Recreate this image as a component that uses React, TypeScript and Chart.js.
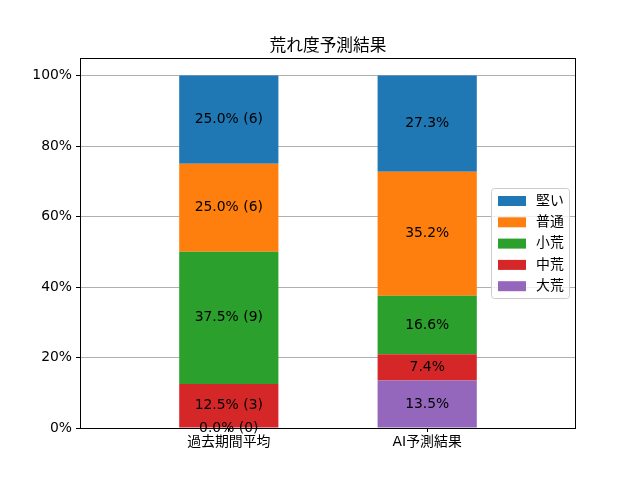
import React, { useEffect, useRef } from 'react';
import { Chart, registerables } from 'chart.js';

Chart.register(...registerables);

const categories = ['過去期間平均', 'AI予測結果'];
// stacked bottom -> top
const seriesNames = ['大荒', '中荒', '小荒', '普通', '堅い'];
const seriesColors = ['#9467bd', '#d62728', '#2ca02c', '#ff7f0e', '#1f77b4'];
const pastPercent = [0.0, 12.5, 37.5, 25.0, 25.0];
const pastCounts = [0, 3, 9, 6, 6];
const aiPercent = [13.5, 7.4, 16.6, 35.2, 27.3];
const yTicks = [0, 20, 40, 60, 80, 100];

const FONT = "'DejaVu Sans', 'Noto Sans CJK JP', sans-serif";

const framePlugin = {
  id: 'frameAndLabels',
  afterDatasetsDraw(chart: any) {
    const ctx = chart.ctx;
    const { left, right, top, bottom } = chart.chartArea;
    ctx.save();

    // bar labels
    ctx.fillStyle = '#000';
    ctx.font = `13.9px ${FONT}`;
    ctx.textAlign = 'center';
    ctx.textBaseline = 'middle';
    chart.data.datasets.forEach((ds: any, i: number) => {
      const meta = chart.getDatasetMeta(i);
      meta.data.forEach((bar: any, j: number) => {
        const props = bar.getProps(['x', 'y', 'base'], true);
        const cy = (props.y + props.base) / 2;
        const pct = ds.data[j].y.toFixed(1) + '%';
        const txt = j === 0 ? `${pct} (${pastCounts[i]})` : pct;
        ctx.fillText(txt, props.x, cy);
      });
    });

    // axes box
    ctx.strokeStyle = '#000';
    ctx.lineWidth = 1;
    ctx.strokeRect(Math.round(left) + 0.5, Math.round(top) + 0.5, Math.round(right - left) - 1, Math.round(bottom - top));

    // title
    ctx.font = `16.7px ${FONT}`;
    ctx.textBaseline = 'alphabetic';
    ctx.fillText('荒れ度予測結果', (left + right) / 2, top - 7);

    // legend (matplotlib style, reversed)
    const lx = 491;
    const ly = 188;
    const lw = 78;
    const lh = 110;
    ctx.fillStyle = 'rgba(255,255,255,0.8)';
    ctx.strokeStyle = '#cccccc';
    ctx.beginPath();
    ctx.roundRect(lx + 0.5, ly + 0.5, lw, lh, 3);
    ctx.fill();
    ctx.stroke();
    ctx.font = `13.9px ${FONT}`;
    ctx.textAlign = 'left';
    ctx.textBaseline = 'middle';
    for (let k = 0; k < seriesNames.length; k++) {
      const idx = seriesNames.length - 1 - k;
      const y = ly + 12 + k * 21.3;
      ctx.fillStyle = seriesColors[idx];
      ctx.fillRect(lx + 7, y - 4, 28, 10);
      ctx.fillStyle = '#000';
      ctx.fillText(seriesNames[idx], lx + 45, y + 1);
    }
    ctx.restore();
  },
};

const App: React.FC = () => {
  const canvasRef = useRef<HTMLCanvasElement>(null);

  useEffect(() => {
    if (!canvasRef.current) return;
    const chart = new Chart(canvasRef.current, {
      type: 'bar',
      data: {
        datasets: seriesNames.map((name, i) => ({
          label: name,
          data: [
            { x: 0, y: pastPercent[i] },
            { x: 1, y: aiPercent[i] },
          ],
          backgroundColor: seriesColors[i],
          borderWidth: 0,
          categoryPercentage: 1,
          barPercentage: 0.5,
        })),
      },
      plugins: [framePlugin],
      options: {
        animation: false,
        responsive: false,
        devicePixelRatio: 1,
        layout: { padding: { top: 58, right: 64, left: 0, bottom: 0 } },
        scales: {
          x: {
            type: 'linear',
            stacked: true,
            offset: false,
            min: -0.75,
            max: 1.75,
            afterBuildTicks: (scale: any) => {
              scale.ticks = categories.map((_, i) => ({ value: i }));
            },
            afterFit: (scale: any) => {
              scale.height = 52;
            },
            ticks: {
              color: '#000',
              font: { family: FONT, size: 13.9 },
              padding: 2,
              maxRotation: 0,
              autoSkip: false,
              callback: (v: any) => categories[v] ?? '',
            },
            grid: {
              display: true,
              offset: false,
              drawOnChartArea: false,
              color: '#000',
              tickLength: 4,
              tickColor: '#000',
            },
            border: { display: false },
          },
          y: {
            stacked: true,
            min: 0,
            max: 105,
            afterBuildTicks: (scale: any) => {
              scale.ticks = yTicks.map((v) => ({ value: v }));
            },
            afterFit: (scale: any) => {
              scale.width = 80;
            },
            ticks: {
              color: '#000',
              font: { family: FONT, size: 13.9 },
              padding: 4,
              callback: (v: any) => `${v}%`,
            },
            grid: {
              color: '#b0b0b0',
              tickLength: 4,
              tickColor: '#000',
            },
            border: { display: false },
          },
        },
        plugins: {
          legend: { display: false },
          title: { display: false },
          tooltip: { enabled: false },
        },
      },
    });
    return () => chart.destroy();
  }, []);

  return (
    <div style={{ position: 'absolute', left: 0, top: 0, width: 640, height: 480, background: '#fff' }}>
      <canvas ref={canvasRef} width={640} height={480} style={{ width: 640, height: 480 }} />
    </div>
  );
};

export default App;
